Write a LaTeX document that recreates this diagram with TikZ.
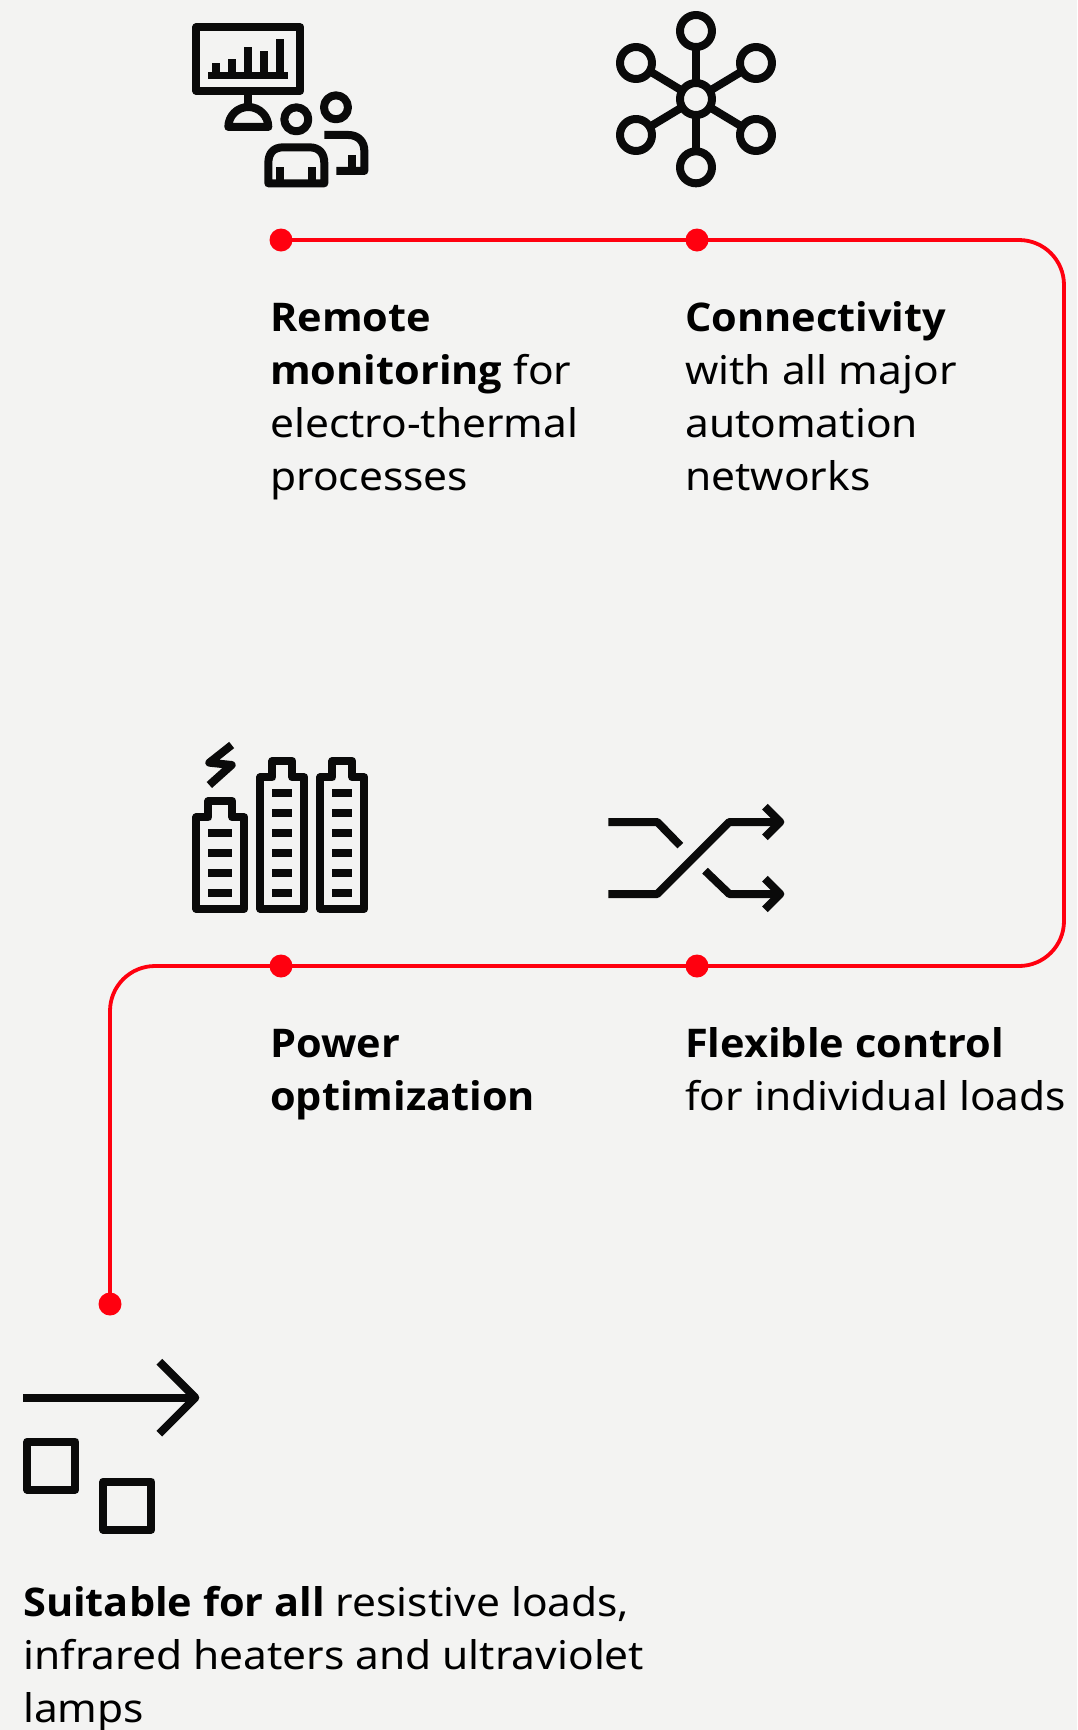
\documentclass[tikz,border=0pt]{standalone}
\usepackage{fontspec}
\setmainfont[FakeStretch=1.075]{Noto Sans}
\newfontfamily\strongface[FakeStretch=1.05]{Open Sans}
\newcommand{\heavytext}[1]{{\strongface\bfseries #1}}
\definecolor{bgc}{HTML}{F3F3F2}
\definecolor{abbred}{HTML}{FF000F}
\definecolor{ink}{HTML}{0A0A0A}
\newcommand{\firstline}{\rule{0pt}{42pt}}
\tikzset{
  redline/.style={draw=abbred,line width=3.8pt,rounded corners=45pt},
  reddot/.style={circle,fill=abbred,minimum size=23pt,inner sep=0pt},
  label/.style={anchor=north west,inner sep=0pt,align=left,font=\fontsize{39.5}{53}\selectfont,text=black},
  iconline/.style={draw=ink,line width=8pt,line join=round,fill=none},
  iconfill/.style={fill=ink,draw=none}
}
\begin{document}
\begin{tikzpicture}[x=1pt,y=-1pt]
\useasboundingbox (0,0) rectangle (1077,1730);
\fill[bgc] (0,0) rectangle (1077,1730);
% red line
\node[reddot] (d1) at (281,240) {};
\node[reddot] (d2) at (697,240) {};
\node[reddot] (d3) at (697,966) {};
\node[reddot] (d4) at (281,966) {};
\node[reddot] (d5) at (110,1304) {};
\coordinate (c1) at (1064,240);
\coordinate (c2) at (1064,966);
\coordinate (c3) at (110,966);
\draw[redline] (d1.center) -- (c1) -- (c2) -- (c3) -- (d5.center);
% labels
\node[label] (t1) at (270,289) {\firstline\heavytext{Remote}\\\heavytext{monitoring} for\\electro-thermal\\processes};
\node[label] (t2) at (685,289) {\firstline\heavytext{Connectivity}\\with all major\\automation\\networks};
\node[label] (t3) at (270,1015) {\firstline\heavytext{Power}\\\heavytext{optimization}};
\node[label] (t4) at (685,1015) {\firstline\heavytext{Flexible control}\\for individual loads};
\node[label] (t5) at (23,1574) {\firstline\heavytext{Suitable for all} resistive loads,\\infrared heaters and ultraviolet\\lamps};
% icon 1
\begin{scope}[shift={(170,0)},x=0.3333pt,y=-0.3333pt]
\draw[iconline] (79,82) rectangle (391,273);
\fill[iconfill] (115,215) rectangle (355,238);
\fill[iconfill] (127,190) rectangle (151,220);
\fill[iconfill] (175,178) rectangle (199,220);
\fill[iconfill] (223,142) rectangle (247,220);
\fill[iconfill] (271,154) rectangle (295,220);
\fill[iconfill] (319,118) rectangle (343,220);
\draw[iconline] (235,273) -- (235,321);
\draw[iconline] (175,381) arc[start angle=180,end angle=360,radius=60] -- cycle;
\draw[iconline] (379,358) circle[radius=36];
\draw[iconline] (498,322) circle[radius=36];
\draw[iconline] (295,550) -- (295,490) .. controls (295,460) and (310,442) .. (340,442) -- (418,442) .. controls (448,442) and (463,460) .. (463,490) -- (463,550) -- cycle;
\draw[iconline] (331,502) -- (331,550);
\draw[iconline] (427,502) -- (427,550);
\draw[iconline] (463,405) -- (535,405) .. controls (565,405) and (583,425) .. (583,452) -- (583,513) -- (499,513);
\draw[iconline] (546,465) -- (546,513);
\end{scope}
% icon 2
\begin{scope}[shift={(600,0)},x=0.3333pt,y=-0.3333pt]
\draw[iconline] (288,297) circle[radius=48];
\foreach \cx/\cy in {288/93,288/502,108/189,468/189,108/405,468/405}{
  \draw[iconline] (\cx,\cy) circle[radius=48];
}
\draw[iconline] (288,141) -- (288,249);
\draw[iconline] (288,345) -- (288,454);
\draw[iconline] (150,214) -- (246,272);
\draw[iconline] (426,214) -- (330,272);
\draw[iconline] (150,380) -- (246,322);
\draw[iconline] (426,380) -- (330,322);
\end{scope}
% icon 3
\begin{scope}[shift={(180,730)},x=0.3333pt,y=-0.3333pt]
\draw[iconline] (155,45) -- (88,98) -- (155,105) -- (88,165);
\draw[iconline] (49,537) -- (49,262) -- (85,262) -- (85,213) -- (157,213) -- (157,262) -- (193,262) -- (193,537) -- cycle;
\draw[iconline] (241,537) -- (241,142) -- (277,142) -- (277,93) -- (337,93) -- (337,142) -- (373,142) -- (373,537) -- cycle;
\draw[iconline] (421,537) -- (421,142) -- (457,142) -- (457,93) -- (517,93) -- (517,142) -- (553,142) -- (553,537) -- cycle;
\foreach \yy in {309,369,429,489}{
  \fill[iconfill] (85,\yy-12) rectangle (157,\yy+12);
}
\foreach \yy in {189,249,309,369,429,489}{
  \fill[iconfill] (277,\yy-12) rectangle (337,\yy+12);
  \fill[iconfill] (457,\yy-12) rectangle (517,\yy+12);
}
\end{scope}
% icon 4
\begin{scope}[shift={(600,790)},x=0.3333pt,y=-0.3333pt]
\draw[iconline] (25,96) -- (172,96) -- (241,167);
\draw[iconline] (25,312) -- (172,312) -- (388,96) -- (540,96);
\draw[iconline] (495,50) -- (541,96) -- (495,142);
\draw[iconline] (315,242) -- (388,312) -- (540,312);
\draw[iconline] (495,266) -- (541,312) -- (495,358);
\end{scope}
% icon 5
\begin{scope}[shift={(10,1340)},x=0.3333pt,y=-0.3333pt]
\draw[iconline] (40,173) -- (555,173);
\draw[iconline] (448,65) -- (556,173) -- (448,281);
\draw[iconline] (52,305) rectangle (196,449);
\draw[iconline] (280,425) rectangle (424,569);
\end{scope}
\end{tikzpicture}
\end{document}
